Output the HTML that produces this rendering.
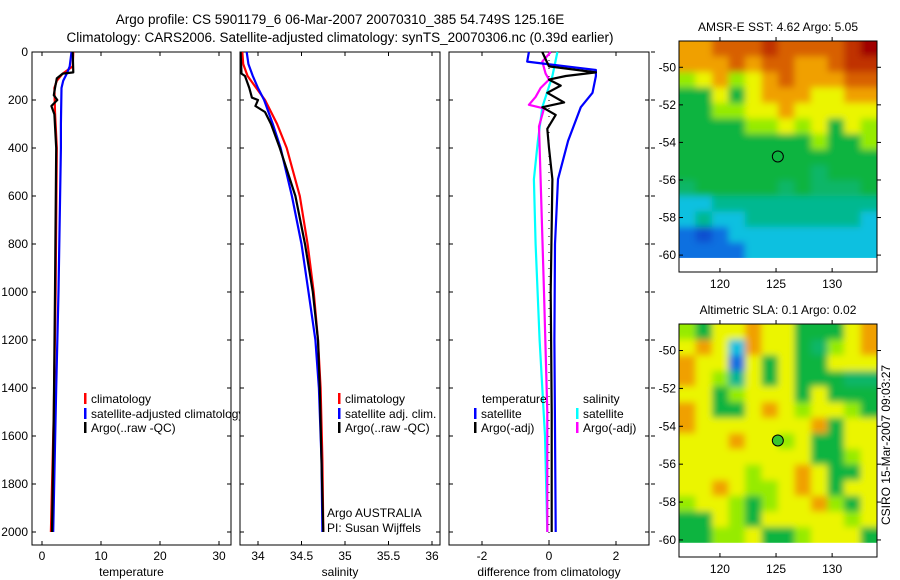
<!DOCTYPE html>
<html><head><meta charset="utf-8"><style>
html,body{margin:0;padding:0;background:#fff;}
svg{display:block;font-family:"Liberation Sans",sans-serif;}
</style></head><body>
<svg id="fig" width="900" height="580" viewBox="0 0 900 580" xmlns="http://www.w3.org/2000/svg">
<defs>
<filter id="soft" x="-5%" y="-5%" width="110%" height="110%"><feGaussianBlur stdDeviation="3.5"/></filter>
<clipPath id="clipSst"><rect x="679" y="41" width="198" height="218"/></clipPath>
<clipPath id="clipSla"><rect x="679" y="324" width="198" height="220"/></clipPath>
<clipPath id="clipP1"><rect x="32" y="52" width="199" height="493"/></clipPath>
</defs>
<rect width="900" height="580" fill="#fff"/>
<text x="340" y="24" font-size="13.5" text-anchor="middle">Argo profile: CS 5901179_6 06-Mar-2007 20070310_385 54.749S 125.16E</text>
<text x="340" y="42" font-size="13.5" text-anchor="middle">Climatology: CARS2006. Satellite-adjusted climatology: synTS_20070306.nc (0.39d earlier)</text>
<g id="plots"></g>
</svg>
<script>
// ---------- profile data ----------
const tempClimDepth=[0,60,90,120,150,250,400,1000,1500,2000];
const tempClim=[5.3,5.2,3.5,2.5,2.1,2.2,2.5,2.3,2.0,1.5];
const tempSatDepth=[0,60,90,120,150,300,400,1000,1400,2000];
const tempSat=[5.0,4.7,4.2,3.6,3.3,3.2,3.2,2.8,2.4,1.9];
const tempArgoDepth=[0,85,90,110,150,180,200,225,260,400,1000,1500,2000];
const tempArgo=[5.2,5.3,3.5,2.5,2.2,2.0,2.6,1.6,2.1,2.4,2.2,2.0,1.7];

const salClimDepth=[0,50,100,150,200,300,400,600,800,1000,1200,1400,1700,2000];
const salClim=[33.82,33.83,33.88,33.98,34.08,34.22,34.33,34.48,34.57,34.64,34.69,34.72,34.74,34.75];
const salSatDepth=[0,50,100,150,200,300,400,600,800,1000,1200,1400,1700,2000];
const salSat=[33.87,33.89,33.94,34.0,34.07,34.17,34.26,34.39,34.5,34.58,34.66,34.70,34.73,34.74];
const salArgoDepth=[0,90,100,150,190,200,225,250,300,400,600,800,1000,1200,1400,1700,2000];
const salArgo=[33.8,33.81,33.85,33.9,33.93,34.0,33.97,34.08,34.15,34.25,34.43,34.54,34.63,34.69,34.71,34.73,34.75];

const dTempSatDepth=[0,40,60,75,100,170,230,370,530,800,1200,2000];
const dTempSat=[-0.6,-0.65,0.5,1.4,1.4,1.3,0.95,0.57,0.27,0.18,0.16,0.2];
const dTempArgoDepth=[0,30,60,85,100,115,140,170,210,230,262,320,400,530,1000,1500,2000];
const dTempArgo=[-0.2,-0.1,0,1.4,0.5,0,0.35,-0.05,0.45,-0.2,0.2,-0.05,0.0,0.1,0.05,0.08,0.08];
const dSalSatDepth=[0,100,230,370,530,800,1200,1600,2000];
const dSalSat=[0.25,0.1,-0.2,-0.33,-0.45,-0.4,-0.28,-0.12,-0.05];
const dSalArgoDepth=[0,40,90,115,150,187,220,235,310,530,1000,1500,2000];
const dSalArgo=[0.05,-0.2,-0.1,0.0,-0.25,-0.4,-0.6,-0.15,-0.3,-0.25,-0.15,-0.05,-0.05];

const depthTicks=[0,200,400,600,800,1000,1200,1400,1600,1800,2000];
const tempTicks=[0,10,20,30];
const salTicks=[34,34.5,35,35.5,36];
const salTickLabels=["34","34.5","35","35.5","36"];
const diffTicks=[-2,0,2];

// ---------- map data (colour level 0..10) ----------
const sstGrid=[
[7,7,8,8,8,9,8,8,8,8,9,10],
[7,7,7,8,7,8,8,7,7,8,9,9],
[5,6,7,5,6,7,8,7,7,7,8,8],
[4,4,6,4,6,7,7,7,6,6,7,7],
[4,4,5,5,6,6,7,6,6,6,6,6],
[4,4,4,4,5,5,6,5,6,4,6,5],
[4,4,4,4,4,4,4,4,5,4,4,5],
[4,4,4,4,4,4,4,4,4,4,4,4],
[4,4,4,4,4,4,4,4,3.5,4,4,4],
[3.5,4,4,4,4,4,3.5,4,3.5,3.5,3.5,4],
[2,2,3,3,3,3,3,3,3,3,3,3],
[2,3,2,2,3,3,3,3,3,3,3,2],
[1,0.5,1,2,2,2,2,2,2,2,2,2],
[1,1,1,1,2,2,2,2,2,2,2,2]];
const slaGrid=[
[5,4,6,6,7,6,6,4,4,4,6,7],
[6,7,6,2,7,6,6,4,3.5,5,6,7],
[7,6,6,1,6,4,6,4,4,6,6,6],
[7,6,5,3,6,4,6,4,4,4,3.5,3.5],
[6,6,4,5,6,6,6,4,6,4,4,4],
[7,6,4,4,6,7,6,5,6,6,5,4],
[7,6,6,6,6,6,6,6,7,4,6,6],
[6,6,6,7,6,6,5,6,4,4,6,6],
[6,6,6,6,6,6,6,6,4,4,5,6],
[6,6,6,6,5,6,6,7,6,4,4,6],
[6,6,7,6,5,5,6,7,6,4,6,6],
[5,6,6,5,4,5,6,6,7,5,4,6],
[4,4,6,5,4,6,6,6,6,6,5,6],
[4,4,5,5,6,4,4,5,6,6,6,4]];
const lonTicks=[120,125,130];
const latTicks=[-50,-52,-54,-56,-58,-60];
const argoLon=125.16, argoLat=-54.75;

// ---------- helpers ----------
const NS="http://www.w3.org/2000/svg";
const root=document.getElementById('plots');
function mk(tag,attrs,parent){const e=document.createElementNS(NS,tag);for(const k in attrs)e.setAttribute(k,attrs[k]);(parent||root).appendChild(e);return e;}
const TOP=52,BOT=545;
const yD=d=>TOP+d*0.24;

function panel(name,L,R,xs,ticks,labels,xlabel){
  const g=mk('g',{});
  
  
  const box=mk('rect',{x:L,y:TOP,width:R-L,height:BOT-TOP,fill:'#fff',stroke:'#000','stroke-width':1},g);
  
  
  depthTicks.forEach(d=>{
    mk('line',{x1:L,x2:L+4,y1:yD(d),y2:yD(d),stroke:'#000'},g);
    mk('line',{x1:R-4,x2:R,y1:yD(d),y2:yD(d),stroke:'#000'},g);
  });
  ticks.forEach((t,i)=>{
    const x=xs(t);
    mk('line',{x1:x,x2:x,y1:TOP,y2:TOP+4,stroke:'#000'},g);
    mk('line',{x1:x,x2:x,y1:BOT-4,y2:BOT,stroke:'#000'},g);
    const tx=mk('text',{x:x,y:BOT+15,'font-size':12,'text-anchor':'middle'},g);
    tx.textContent=labels[i];
    
    
  });
  const xl=mk('text',{x:(L+R)/2,y:BOT+31,'font-size':12,'text-anchor':'middle'},g);
  xl.textContent=xlabel;
  
  
  return g;
}
function line(g,depths,vals,xs,color,name,w){
  const pts=depths.map((d,i)=>xs(vals[i]).toFixed(1)+','+yD(d).toFixed(1)).join(' ');
  const p=mk('polyline',{points:pts,fill:'none',stroke:color,'stroke-width':w||2.2,'stroke-linejoin':'round'},g);
  
  
}
function legend(g,x,y,color,label,name){
  mk('rect',{x:x,y:y-10,width:2.5,height:11,fill:color},g);
  const t=mk('text',{x:x+7,y:y,'font-size':12},g);
  t.textContent=label;
  
  
}

depthTicks.forEach(d=>{
  const t=mk('text',{x:28,y:yD(d)+4,'font-size':12,'text-anchor':'end'});
  t.textContent=String(d);
  
  
});
depthTicks.forEach(d=>mk('line',{x1:651,x2:655,y1:yD(d),y2:yD(d),stroke:'#000'}));

// panel 1 temperature
const xT=v=>42+v*5.9;
const g1=panel('temperature-panel',32,231,xT,tempTicks,tempTicks.map(String),'temperature');
line(g1,tempClimDepth,tempClim,xT,'#ff0000','temp-climatology-line');
line(g1,tempSatDepth,tempSat,xT,'#0000ff','temp-satellite-line');
line(g1,tempArgoDepth,tempArgo,xT,'#000000','temp-argo-line');
legend(g1,84,403,'#ff0000','climatology','legend-climatology');
legend(g1,84,418,'#0000ff','satellite-adjusted climatology','legend-satellite');
legend(g1,84,432,'#000000','Argo(..raw -QC)','legend-argo');

// panel 2 salinity
const xS=v=>258+(v-34)*87;
const g2=panel('salinity-panel',240,440,xS,salTicks,salTickLabels,'salinity');
line(g2,salClimDepth,salClim,xS,'#ff0000','sal-climatology-line');
line(g2,salSatDepth,salSat,xS,'#0000ff','sal-satellite-line');
line(g2,salArgoDepth,salArgo,xS,'#000000','sal-argo-line');
legend(g2,338,403,'#ff0000','climatology','legend-sal-climatology');
legend(g2,338,418,'#0000ff','satellite adj. clim.','legend-sal-satellite');
legend(g2,338,432,'#000000','Argo(..raw -QC)','legend-sal-argo');
[['Argo AUSTRALIA',517],['PI: Susan Wijffels',532]].forEach(a=>{
  const t=mk('text',{x:327,y:a[1],'font-size':12},g2);t.textContent=a[0];
  
  
});

// panel 3 differences
const xDf=v=>549+v*33.5;
const g3=panel('difference-panel',449,649,xDf,diffTicks,diffTicks.map(String),'difference from climatology');
mk('line',{x1:xDf(0),x2:xDf(0),y1:TOP,y2:BOT,stroke:'#000','stroke-width':1,'stroke-dasharray':'1,7'},g3);
line(g3,dSalSatDepth,dSalSat,xDf,'#00ffff','diff-sal-satellite-line');
line(g3,dSalArgoDepth,dSalArgo,xDf,'#ff00ff','diff-sal-argo-line');
line(g3,dTempSatDepth,dTempSat,xDf,'#0000ff','diff-temp-satellite-line');
line(g3,dTempArgoDepth,dTempArgo,xDf,'#000000','diff-temp-argo-line');
const th=mk('text',{x:482,y:403,'font-size':12},g3);th.textContent='temperature';

const sh=mk('text',{x:583,y:403,'font-size':12},g3);sh.textContent='salinity';

legend(g3,474,418,'#0000ff','satellite','legend-temp-satellite');
legend(g3,474,432,'#000000','Argo(-adj)','legend-temp-argo');
legend(g3,576,418,'#00ffff','satellite','legend-sal-satellite-diff');
legend(g3,576,432,'#ff00ff','Argo(-adj)','legend-sal-argo-diff');

// ---------- maps ----------
const stops=[[0,[0,48,192]],[1,[16,112,224]],[2,[16,192,224]],[3,[0,184,144]],[4,[16,180,64]],[5,[150,235,0]],[6,[235,245,0]],[7,[240,160,0]],[8,[216,96,0]],[9,[192,48,0]],[10,[160,0,0]]];
function col(v){
  for(let i=0;i<stops.length-1;i++){
    if(v<=stops[i+1][0]){const a=stops[i],b=stops[i+1],f=(v-a[0])/(b[0]-a[0]);
      return 'rgb('+a[1].map((c,k)=>Math.round(c+(b[1][k]-c)*f)).join(',')+')';}
  }
  return 'rgb(160,0,0)';
}
function map(name,top,bottom,title,grid,filled,clipId){
  const L=679,R=877;
  const lonMin=116.35,lonMax=134.0,latTop=-48.6,latBot=-60.9;
  const xs=lo=>L+(lo-lonMin)/(lonMax-lonMin)*(R-L);
  const ys=la=>top+(la-latTop)/(latBot-latTop)*(bottom-top);
  const g=mk('g',{});
  
  
  const t=mk('text',{x:778,y:top-10,'font-size':12,'text-anchor':'middle'},g);
  t.textContent=title;
  
  
  const nr=grid.length,nc=grid[0].length;
  const dataBot=ys(-60.15);
  const cw=(R-L)/nc,ch=(dataBot-top)/nr;
  const clipG=mk('g',{'clip-path':'url(#'+clipId+')'},g);
  const cells=mk('g',{filter:'url(#soft)'},clipG);
  grid.forEach((row,r)=>row.forEach((v,c)=>{
    // extend edge cells outward so blur doesn't fade edges
    const x0=L+c*cw-(c===0?8:0), y0=top+r*ch-(r===0?8:0);
    const w=cw+0.6+(c===0?8:0)+(c===nc-1?8:0), h=ch+0.6+(r===0?8:0)+(r===nr-1?8:0);
    const cell=mk('rect',{x:x0.toFixed(2),y:y0.toFixed(2),width:w.toFixed(2),height:h.toFixed(2),fill:col(v)},cells);
    
    
  }));
  mk('rect',{x:L,y:dataBot,width:R-L,height:bottom-dataBot,fill:'#fff'},g);
  mk('rect',{x:L,y:top,width:R-L,height:bottom-top,fill:'none',stroke:'#000'},g);
  latTicks.forEach(la=>{
    const y=ys(la);
    mk('line',{x1:L,x2:L+4,y1:y,y2:y,stroke:'#000'},g);
    mk('line',{x1:R,x2:R+4,y1:y,y2:y,stroke:'#000'},g);
    const tl=mk('text',{x:L-3,y:y+4,'font-size':12,'text-anchor':'end'},g);
    tl.textContent=String(la);
    
    
  });
  lonTicks.forEach(lo=>{
    const x=xs(lo);
    mk('line',{x1:x,x2:x,y1:top-4,y2:top,stroke:'#000'},g);
    mk('line',{x1:x,x2:x,y1:bottom-4,y2:bottom,stroke:'#000'},g);
    const tl=mk('text',{x:x,y:bottom+16,'font-size':12,'text-anchor':'middle'},g);
    tl.textContent=String(lo);
    
    
  });
  const m=mk('circle',{cx:xs(argoLon),cy:ys(argoLat),r:5.5,fill:filled?col(4.3):'none',stroke:'#000','stroke-width':1},g);
  
  
}
map('sst-map',41,272,'AMSR-E SST: 4.62 Argo: 5.05',sstGrid,false,'clipSst');
map('sla-map',324,557,'Altimetric SLA: 0.1 Argo: 0.02',slaGrid,true,'clipSla');
const cs=mk('text',{x:0,y:0,'font-size':12,'text-anchor':'middle',transform:'translate(890,445) rotate(-90)'});
cs.textContent='CSIRO 15-Mar-2007 09:03:27';


</script>
</body></html>
